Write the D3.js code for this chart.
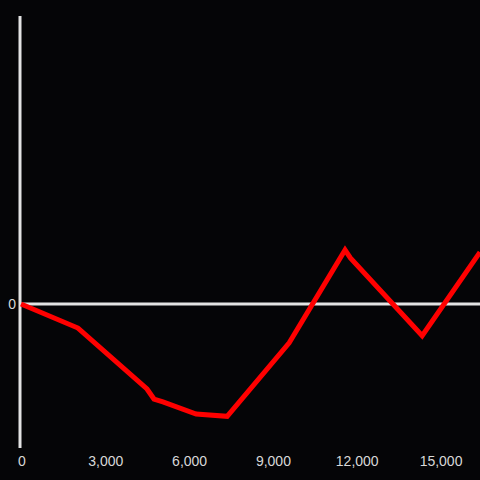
<!DOCTYPE html>
<html><head><meta charset="utf-8">
<script src="https://cdn.jsdelivr.net/npm/d3@7"></script>
<style>html,body{margin:0;padding:0;background:#050507;}svg{display:block;}</style>
</head><body>
<script>
const xValues = [0, 2040, 4510, 4760, 5080, 6270, 7380, 9600, 11600, 11790, 14360, 16430];
const yValues = [0, -0.167, -0.59, -0.66, -0.68, -0.764, -0.78, -0.27, 0.375, 0.32, -0.22, 0.36];
const xTicks = [0, 3000, 6000, 9000, 12000, 15000];
const yTicks = [0];

const W = 480, H = 480;
const svg = d3.select("body").append("svg").attr("width", W).attr("height", H);
svg.append("rect").attr("width", W).attr("height", H).attr("fill", "#050507");

const x = d3.scaleLinear().domain([0, 16430]).range([21, 480]);
const y = d3.scaleLinear().domain([-1, 2]).range([448, 16]);
const axisColor = "#e3e3e3";
const font = "Liberation Sans, Arial, sans-serif";

// y axis line
svg.append("line").attr("x1", 20).attr("x2", 20).attr("y1", y(2)).attr("y2", y(-1))
  .attr("stroke", axisColor).attr("stroke-width", 3);
// zero line
svg.append("line").attr("x1", 21).attr("x2", 480).attr("y1", y(0)).attr("y2", y(0))
  .attr("stroke", axisColor).attr("stroke-width", 3);

// y tick labels
svg.selectAll("text.yt").data(yTicks).enter().append("text")
  .attr("x", 16).attr("y", d => y(d)).attr("dy", "0.35em")
  .attr("text-anchor", "end").attr("fill", "#d8d8d8")
  .attr("font-family", font).attr("font-size", 14).text(d => d3.format(",")(d));

// x tick labels
svg.selectAll("text.xt").data(xTicks).enter().append("text")
  .attr("x", d => x(d) + 1).attr("y", 466)
  .attr("text-anchor", "middle").attr("fill", "#d8d8d8")
  .attr("font-family", font).attr("font-size", 14).text(d => d3.format(",")(d));

const data = xValues.map((v, i) => [v, yValues[i]]);
const line = d3.line().x(d => x(d[0])).y(d => y(d[1]));
svg.append("path").datum(data).attr("d", line)
  .attr("fill", "none").attr("stroke", "#ff0000").attr("stroke-width", 5)
  .attr("stroke-linejoin", "miter");
</script>
</body></html>
